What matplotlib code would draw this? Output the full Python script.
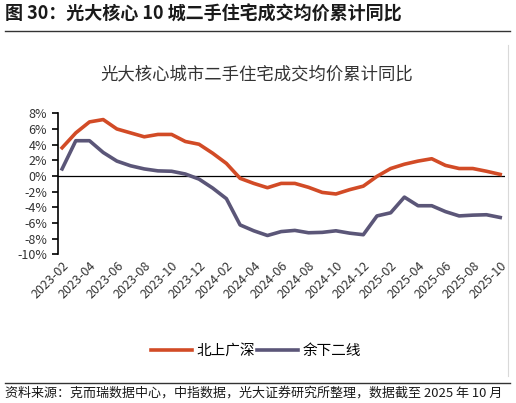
import matplotlib
matplotlib.use('Agg')
import matplotlib.pyplot as plt
import matplotlib.transforms as mtransforms
from matplotlib.lines import Line2D

plt.rcParams['font.family'] = ['Noto Sans CJK SC', 'DejaVu Sans']
plt.rcParams['axes.unicode_minus'] = False

# Monthly data, 2023-02 .. 2025-10
months = ['2023-02', '2023-03', '2023-04', '2023-05', '2023-06', '2023-07', '2023-08',
          '2023-09', '2023-10', '2023-11', '2023-12', '2024-01', '2024-02', '2024-03',
          '2024-04', '2024-05', '2024-06', '2024-07', '2024-08', '2024-09', '2024-10',
          '2024-11', '2024-12', '2025-01', '2025-02', '2025-03', '2025-04', '2025-05',
          '2025-06', '2025-07', '2025-08', '2025-09', '2025-10']
tier1 = [3.6, 5.5, 6.9, 7.2, 6.0, 5.5, 5.0, 5.3, 5.3, 4.4, 4.05, 2.9, 1.6, -0.3,
         -0.95, -1.5, -0.95, -0.95, -1.45, -2.1, -2.3, -1.75, -1.3, -0.05, 0.95,
         1.5, 1.9, 2.2, 1.35, 0.95, 0.95, 0.6, 0.2]
tier2 = [0.9, 4.5, 4.5, 3.0, 1.9, 1.3, 0.9, 0.65, 0.6, 0.25, -0.4, -1.55, -2.9,
         -6.25, -7.0, -7.6, -7.1, -6.95, -7.25, -7.2, -7.0, -7.3, -7.5, -5.1, -4.7,
         -2.7, -3.8, -3.8, -4.55, -5.1, -5.0, -4.95, -5.3]
yticks = list(range(-10, 9, 2))

W, H = 516, 403
fig = plt.figure(figsize=(W / 100, H / 100), dpi=100)

# Header and footer
fig.text(5 / W, 1 - 14 / H, '图 30：光大核心 10 城二手住宅成交均价累计同比',
         fontsize=13, fontweight='bold', color='#1a1a1a', va='center', ha='left')
fig.add_artist(Line2D([5 / W, 510 / W], [1 - 31 / H, 1 - 31 / H], color='#333333', lw=1))
fig.add_artist(Line2D([5 / W, 510 / W], [1 - 383 / H, 1 - 383 / H], color='#333333', lw=1))
fig.text(5 / W, 1 - 393 / H, '资料来源：克而瑞数据中心，中指数据，光大证券研究所整理，数据截至 2025 年 10 月',
         fontsize=9.4, color='#1a1a1a', va='center', ha='left')
# right border of chart box
fig.add_artist(Line2D([508 / W, 508 / W], [1 - 45 / H, 1 - 376 / H], color='#d9d9d9', lw=0.8))

fig.text(257 / W, 1 - 74 / H, '光大核心城市二手住宅成交均价累计同比',
         fontsize=12.5, color='#333333', va='center', ha='center')

ax = fig.add_axes([58 / W, 1 - 254.3 / H, (505 - 58) / W, (254.3 - 113.3) / H])
x = list(range(len(months)))
ax.plot(x, tier1, color='#D24B26', lw=2.6, label='北上广深', solid_joinstyle='round')
ax.plot(x, tier2, color='#5B5678', lw=2.6, label='余下二线', solid_joinstyle='round')
ax.axhline(0, color='black', lw=0.9, zorder=1)

ax.set_ylim(-10, 8)
ax.set_xlim(-0.3, len(months) - 1 + 0.35)
ax.set_yticks(yticks)
ax.set_yticklabels([f'{v}%' for v in yticks], fontsize=9, color='#333333')
ax.tick_params(axis='y', direction='out', length=4, width=1.2, pad=4)

ax.set_xticks(x[::2])
labels = ax.set_xticklabels(months[::2], rotation=45, ha='right',
                            rotation_mode='anchor', fontsize=9, color='#333333')
offset = mtransforms.ScaledTranslation(7 / 72, -16.5 / 72, fig.dpi_scale_trans)
for lab in labels:
    lab.set_transform(lab.get_transform() + offset)
ax.tick_params(axis='x', length=0)

for s in ['top', 'right', 'bottom']:
    ax.spines[s].set_visible(False)
ax.spines['left'].set_linewidth(1.2)
ax.patch.set_visible(False)

fig.legend(loc='center', bbox_to_anchor=(256 / W, 1 - 351 / H), ncol=2, frameon=False,
           fontsize=10.5, handlelength=2.8, handletextpad=0.3, columnspacing=0.2)

fig.savefig('out.png', dpi=100)
